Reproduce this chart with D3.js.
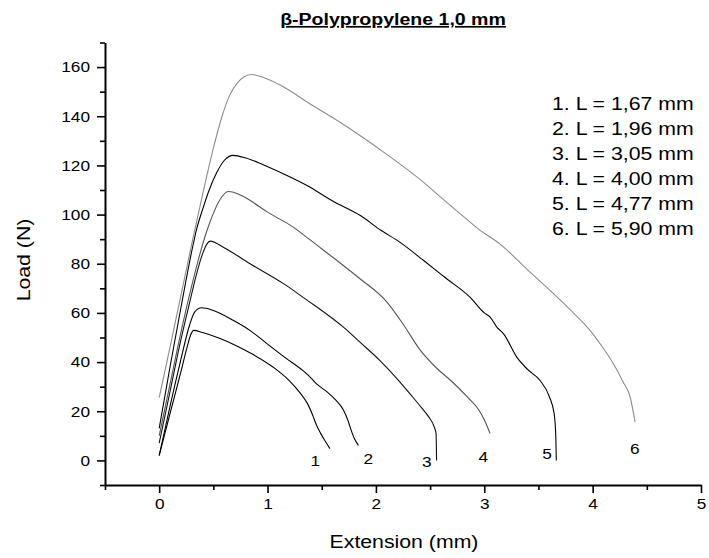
<!DOCTYPE html>
<html>
<head>
  <meta charset="utf-8">
  <title>beta-Polypropylene 1,0 mm</title>
  <script src="https://d3js.org/d3.v7.min.js"></script>
  <style>
    body { margin: 0; background: white; }
    text { font-family: "Liberation Sans", Arial, sans-serif; fill: #000; }
  </style>
</head>
<body>
<div id="output"></div>

<script type="text/javascript">

  // values
  var ext1  = [0, 0.1, 0.2, 0.26, 0.29, 0.32, 0.4, 0.55, 0.683, 0.85, 1.05, 1.2, 1.3, 1.37, 1.42, 1.45, 1.49, 1.53, 1.576];
  var load1 = [2, 19, 36, 46.5, 51, 52.9, 52, 49.8, 47.3, 43.5, 38, 32.5, 27.5, 23, 18, 14.5, 11, 8, 4.8];

  var ext2  = [0, 0.1, 0.2, 0.28, 0.33, 0.391, 0.5, 0.683, 0.85, 1.0, 1.15, 1.33, 1.4, 1.45, 1.5, 1.56, 1.63, 1.7, 1.74, 1.77, 1.8, 1.838];
  var load2 = [2, 22, 41, 55, 60.5, 62.1, 61, 57, 52.5, 47.3, 42.2, 36.4, 33.6, 31.2, 29.5, 27.5, 24.5, 20.5, 16.5, 12.5, 9, 6.1];

  var ext3  = [0, 0.1, 0.2, 0.28, 0.34, 0.4, 0.44, 0.47, 0.6, 0.839, 1.148, 1.39, 1.484, 1.7, 1.85, 2.04, 2.2, 2.316, 2.42, 2.49, 2.535, 2.555, 2.56];
  var load3 = [7, 28, 49, 64, 75, 84, 88, 89.2, 86.5, 80, 71.9, 64.4, 61.5, 54.2, 48.2, 40.5, 33, 27, 21.5, 17.5, 14, 11, 0];

  var ext4  = [0, 0.1, 0.2, 0.3, 0.37, 0.437, 0.5, 0.56, 0.638, 0.75, 0.837, 1.0, 1.237, 1.39, 1.514, 1.638, 1.85, 2.1, 2.25, 2.407, 2.55, 2.716, 2.85, 2.95, 3.0, 3.054];
  var load4 = [10, 31, 52, 71, 83, 93, 100.5, 106, 109.4, 108, 105.8, 101, 94.9, 89.8, 85.6, 81.4, 74, 64.5, 55.5, 45, 38, 31.5, 25.5, 20.5, 16.5, 10.9];

  var ext5  = [0, 0.1, 0.2, 0.3, 0.345, 0.4, 0.453, 0.53, 0.6, 0.683, 0.8, 0.95, 1.145, 1.39, 1.6, 1.853, 2.05, 2.22, 2.438, 2.65, 2.868, 3.0, 3.054, 3.12, 3.178, 3.3, 3.4, 3.515, 3.6, 3.645, 3.66, 3.665];
  var load5 = [13, 38, 62, 85, 94, 102, 109, 117, 122, 124.1, 123, 120.5, 116.6, 111.2, 105.5, 99.7, 93.5, 88.8, 81.4, 74, 66.4, 60, 58.3, 54, 51.5, 42, 37, 32.5, 26, 19, 10, 0];

  var ext6  = [0, 0.1, 0.2, 0.31, 0.4, 0.5, 0.58, 0.65, 0.72, 0.78, 0.85, 0.95, 1.145, 1.39, 1.6, 1.853, 2.1, 2.438, 2.6, 2.777, 2.95, 3.146, 3.4, 3.607, 3.8, 3.976, 4.1, 4.192, 4.28, 4.346, 4.392];
  var load6 = [25.5, 46, 67, 90, 108, 127, 140, 148.5, 153.5, 156, 157, 156, 152, 145.1, 139.5, 132.2, 124.5, 113.2, 107, 100.4, 94, 88, 77.5, 69.2, 61, 52.9, 45.5, 39.3, 32, 25.8, 15.6];

  var curveNames  = ["1", "2", "3", "4", "5", "6"];
  var curveColors = ["#000000", "#000000", "#111111", "#555555", "#000000", "#8c8c8c"];
  var nameX = [1.44, 1.93, 2.47, 2.99, 3.58, 4.39];
  var nameY = [0, 0.7, -0.3, 1.6, 2.7, 4.8];

  var legendLabels = ["1. L = 1,67 mm", "2. L = 1,96 mm", "3. L = 3,05 mm",
                      "4. L = 4,00 mm", "5. L = 4,77 mm", "6. L = 5,90 mm"];

  var xTicks = [0, 1, 2, 3, 4, 5];
  var xMinor = [-0.5, 0.5, 1.5, 2.5, 3.5, 4.5];
  var yTicks = [0, 20, 40, 60, 80, 100, 120, 140, 160];
  var yMinor = [-10, 10, 30, 50, 70, 90, 110, 130, 150, 170];

  var titleText = "\u03b2-Polypropylene 1,0 mm";
  var xTitle = "Extension (mm)";
  var yTitle = "Load (N)";

  var w = 709, h = 558;
  var stretch = 1.15;   // the reference text is drawn a bit wide

  var x = d3.scaleLinear().domain([-0.5, 5]).range([105, 701]);
  var y = d3.scaleLinear().domain([-10, 170]).range([485, 42.5]);

  var svg = d3.select("#output").append("svg")
          .attr("width", w)
          .attr("height", h);

  var series = [[ext1, load1], [ext2, load2], [ext3, load3], [ext4, load4], [ext5, load5], [ext6, load6]]
          .map(function(s, i){
            return { name: curveNames[i], color: curveColors[i],
                     points: s[0].map(function(v, j){ return [v, s[1][j]]; }) };
          });

  var line = d3.line()
          .x(function(d){ return x(d[0]); })
          .y(function(d){ return y(d[1]); })
          .curve(d3.curveMonotoneX);

  svg.selectAll(".curve")
          .data(series)
          .enter()
          .append("path")
          .attr("class", "curve")
          .attr("fill", "none")
          .attr("stroke", function(d){ return d.color; })
          .attr("stroke-width", 1.1)
          .attr("d", function(d){ return line(d.points); });

  // axes
  var xAxis = svg.append("g")
          .attr("transform", "translate(0," + y(-10) + ")")
          .call(d3.axisBottom(x).tickValues(xTicks).tickSize(8).tickSizeOuter(0).tickPadding(5)
                  .tickFormat(d3.format("d")));
  svg.append("g")
          .attr("transform", "translate(0," + y(-10) + ")")
          .call(d3.axisBottom(x).tickValues(xMinor).tickSize(5).tickSizeOuter(0).tickFormat(""))
          .select(".domain").remove();

  var yAxis = svg.append("g")
          .attr("transform", "translate(" + x(-0.5) + ",0)")
          .call(d3.axisLeft(y).tickValues(yTicks).tickSize(8).tickSizeOuter(0).tickPadding(7)
                  .tickFormat(d3.format("d")));
  svg.append("g")
          .attr("transform", "translate(" + x(-0.5) + ",0)")
          .call(d3.axisLeft(y).tickValues(yMinor).tickSize(5).tickSizeOuter(0).tickFormat(""))
          .select(".domain").remove();

  svg.selectAll(".domain").attr("stroke", "#000").attr("stroke-width", 2);
  svg.selectAll(".tick line").attr("stroke", "#000").attr("stroke-width", 1.6);

  xAxis.selectAll("text")
          .attr("font-size", 15)
          .attr("font-family", "Liberation Sans, Arial, sans-serif")
          .attr("transform", "scale(" + stretch + ",1)");
  yAxis.selectAll("text")
          .attr("font-size", 15)
          .attr("font-family", "Liberation Sans, Arial, sans-serif")
          .attr("x", -15 / stretch)
          .attr("transform", "scale(" + stretch + ",1)");

  // title
  svg.append("text")
          .attr("transform", "translate(393,25) scale(" + stretch + ",1)")
          .attr("text-anchor", "middle")
          .attr("font-size", 17)
          .attr("font-weight", "bold")
          .style("text-decoration", "underline")
          .text(titleText);

  // axis titles
  svg.append("text")
          .attr("transform", "translate(404,548) scale(" + stretch + ",1)")
          .attr("text-anchor", "middle")
          .attr("font-size", 18.5)
          .text(xTitle);

  svg.append("text")
          .attr("transform", "translate(30,260) rotate(-90) scale(" + stretch + ",1)")
          .attr("text-anchor", "middle")
          .attr("font-size", 18.5)
          .text(yTitle);

  // curve numbers
  svg.selectAll(".cname")
          .data(series)
          .enter()
          .append("text")
          .attr("class", "cname")
          .attr("transform", function(d, i){
            return "translate(" + x(nameX[i]) + "," + y(nameY[i]) + ") scale(" + stretch + ",1)";
          })
          .attr("text-anchor", "middle")
          .attr("dy", "0.36em")
          .attr("font-size", 15)
          .text(function(d){ return d.name; });

  // legend text
  svg.selectAll(".legend")
          .data(legendLabels)
          .enter()
          .append("text")
          .attr("class", "legend")
          .attr("transform", function(d, i){
            return "translate(552," + (110 + i * 25) + ") scale(" + stretch + ",1)";
          })
          .attr("font-size", 18.5)
          .text(function(d){ return d; });

</script>
</body>
</html>
